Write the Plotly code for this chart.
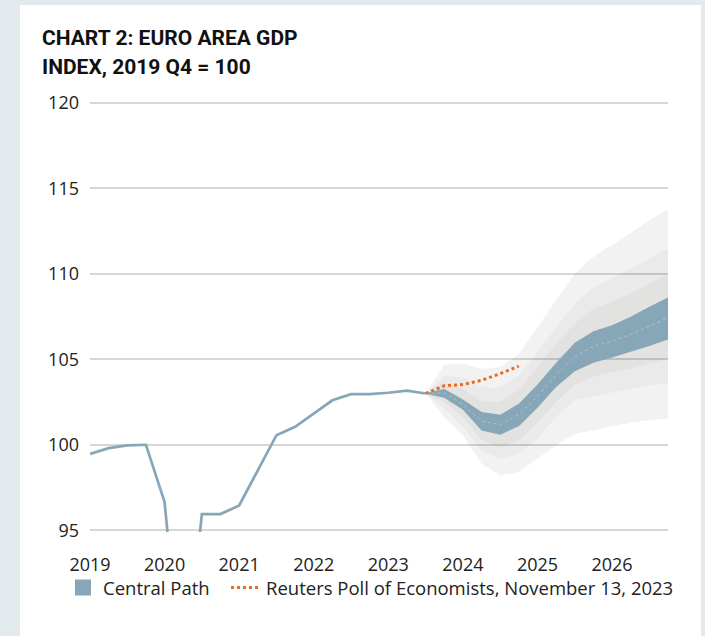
import plotly.graph_objects as go

# ---------------- data ----------------
years = ["2019", "2020", "2021", "2022", "2023", "2024", "2025", "2026"]

# quarterly history, 2019 Q1 .. 2023 Q3 (index 2019 Q4 = 100)
hist_values = [99.46, 99.80, 99.96, 100.0,
               96.65, 85.3, 95.95, 95.95,
               96.45, 98.47, 100.56, 101.05,
               101.85, 102.6, 102.96, 102.96,
               103.04, 103.17, 103.0]

# projection fan, 2023 Q3 .. 2026 Q4
central = [103.0, 103.03, 102.36, 101.39, 101.17, 101.76, 102.83, 104.08,
           105.14, 105.76, 106.05, 106.45, 106.93, 107.44]
blue_hi = [103.03, 103.26, 102.64, 101.91, 101.76, 102.40, 103.52, 104.79,
           105.96, 106.64, 106.99, 107.48, 108.07, 108.61]
blue_lo = [102.99, 102.75, 102.05, 100.84, 100.59, 101.09, 102.17, 103.38,
           104.30, 104.80, 105.10, 105.43, 105.78, 106.15]
band3_hi = [103.03, 103.61, 103.28, 102.54, 102.50, 103.22, 104.55, 105.92,
            107.09, 107.97, 108.36, 108.85, 109.43, 109.98]
band3_lo = [102.99, 102.50, 101.62, 100.29, 99.86, 100.25, 101.33, 102.50,
            103.52, 103.96, 104.26, 104.45, 104.75, 105.04]
band2_hi = [103.03, 104.00, 103.96, 103.38, 103.34, 104.06, 105.43, 106.89,
            108.26, 109.20, 109.73, 110.31, 110.90, 111.48]
band2_lo = [102.99, 102.11, 101.04, 99.67, 99.18, 99.47, 100.35, 101.62,
            102.60, 102.79, 103.05, 103.28, 103.48, 103.57]
band1_hi = [103.03, 104.69, 104.75, 104.45, 104.55, 105.29, 106.89, 108.46,
            110.02, 111.00, 111.68, 112.40, 113.14, 113.77]
band1_lo = [102.99, 101.62, 100.55, 98.89, 98.20, 98.40, 99.18, 99.96,
            100.64, 100.84, 101.09, 101.29, 101.43, 101.52]

# Reuters poll, 2023 Q3 .. 2024 Q4
reuters = [103.0, 103.45, 103.52, 103.77, 104.16, 104.6]

y_ticks = [95, 100, 105, 110, 115, 120]

# ---------------- positions ----------------
hist_x = list(range(len(hist_values)))
start = len(hist_values) - 1
proj_x = list(range(start, start + len(central)))
reu_x = list(range(start, start + len(reuters)))
year_x = [4 * i for i in range(len(years))]

BLUE = "rgb(135,166,183)"
ORANGE = "rgb(232,108,34)"
FONT = "Open Sans, Roboto, sans-serif"
TFONT = "Roboto, Liberation Sans, sans-serif"

# plot-area geometry (pixels)
L, R, T, B = 90, 37, 101, 104
PW, PH = 705 - L - R, 636 - T - B


def px(xp):
    return (xp - L) / PW


def py(yp):
    return (636 - B - yp) / PH


fig = go.Figure()

bands = [
    (band1_lo, band1_hi, "rgba(0,0,0,0.05)"),
    (band2_lo, band2_hi, "rgba(0,0,0,0.033)"),
    (band3_lo, band3_hi, "rgba(40,20,0,0.036)"),
]
for lo, hi, col in bands:
    fig.add_trace(go.Scatter(x=proj_x, y=lo, mode="lines", line=dict(width=0),
                             showlegend=False, hoverinfo="skip"))
    fig.add_trace(go.Scatter(x=proj_x, y=hi, mode="lines", line=dict(width=0),
                             fill="tonexty", fillcolor=col,
                             showlegend=False, hoverinfo="skip"))

fig.add_trace(go.Scatter(x=proj_x, y=blue_lo, mode="lines", line=dict(width=0),
                         showlegend=False, hoverinfo="skip"))
fig.add_trace(go.Scatter(x=proj_x, y=blue_hi, mode="lines", line=dict(width=0),
                         fill="tonexty", fillcolor=BLUE,
                         showlegend=False, hoverinfo="skip"))
fig.add_trace(go.Scatter(x=proj_x, y=central, mode="lines",
                         line=dict(width=0.8, color="rgba(215,228,235,0.6)", dash="dot"),
                         showlegend=False, hoverinfo="skip"))

fig.add_trace(go.Scatter(x=hist_x, y=hist_values, mode="lines",
                         line=dict(width=2.7, color=BLUE),
                         showlegend=False))

# legend proxy for the central path
fig.add_trace(go.Scatter(x=[None], y=[None], mode="markers", name="Central Path",
                         marker=dict(symbol="square", size=20, color=BLUE),
                         legend="legend"))

fig.add_trace(go.Scatter(x=reu_x, y=reuters, mode="lines",
                         name="Reuters Poll of Economists, November 13, 2023",
                         line=dict(width=3, color=ORANGE, dash="dot"),
                         legend="legend2"))

leg_common = dict(orientation="h", yanchor="middle", y=py(588), xanchor="left",
                  font=dict(family=FONT, size=18.5, color="#222"),
                  bgcolor="rgba(0,0,0,0)", itemwidth=30)

fig.update_layout(
    width=705, height=636,
    margin=dict(l=L, r=R, t=T, b=B),
    paper_bgcolor="rgb(227,234,237)",
    plot_bgcolor="rgba(0,0,0,0)",
    font=dict(family=FONT, size=18, color="#222"),
    showlegend=True,
    legend=dict(x=px(63), **leg_common),
    legend2=dict(x=px(226), **leg_common),
    xaxis=dict(range=[0, 31], tickmode="array", tickvals=year_x, ticktext=years,
               showgrid=False, zeroline=False, showline=False, ticks="",
               ticklabelstandoff=20, fixedrange=True),
    yaxis=dict(range=[94.9, 120.1], tickmode="array", tickvals=y_ticks,
               ticktext=[str(v) for v in y_ticks],
               showgrid=True, gridcolor="rgb(215,215,215)", gridwidth=1.6,
               zeroline=False, showline=False, ticks="", ticklabelstandoff=10,
               fixedrange=True),
    shapes=[dict(type="rect", xref="paper", yref="paper",
                 x0=px(20), x1=px(701), y0=py(700), y1=py(5),
                 fillcolor="white", line=dict(width=0), layer="below")],
    annotations=[
        dict(text="<b>CHART 2: EURO AREA GDP</b>", xref="paper", yref="paper",
             x=px(40), y=py(38), xanchor="left", yanchor="middle",
             showarrow=False,
             font=dict(family=TFONT, size=21, color="#111")),
        dict(text="<b>INDEX, 2019 Q4 = 100</b>", xref="paper", yref="paper",
             x=px(40), y=py(66.5), xanchor="left", yanchor="middle",
             showarrow=False,
             font=dict(family=TFONT, size=21, color="#111")),
    ],
)

fig.write_html("out.html", config={"displayModeBar": False},
               post_script="document.body.style.margin='0';")
